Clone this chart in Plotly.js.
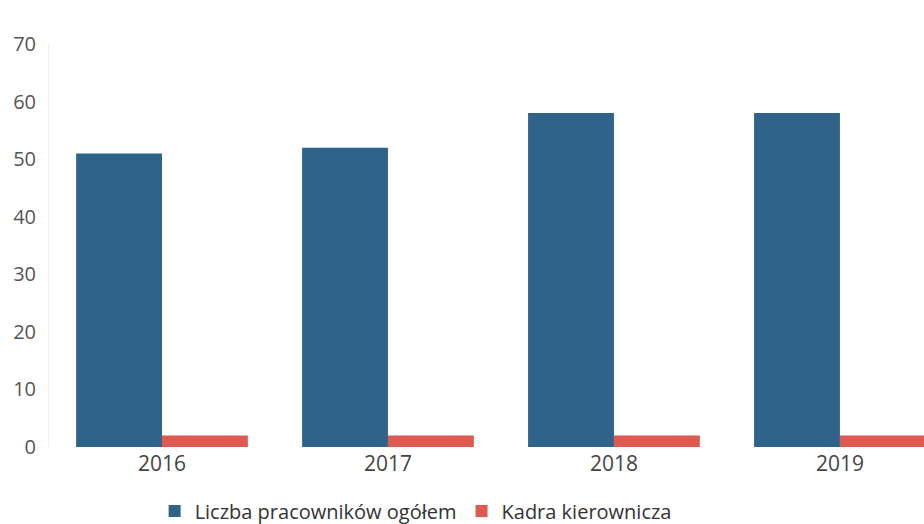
<!DOCTYPE html>
<html>
<head>
<meta charset="utf-8">
<script src="https://cdn.plot.ly/plotly-3.0.1.min.js"></script>
<style>html,body{margin:0;padding:0;background:#fff;}#chart{width:924px;height:524px;}</style>
</head>
<body>
<div id="chart"></div>
<script>
const years = ["2016", "2017", "2018", "2019"];
const seriesNames = ["Liczba pracowników ogółem", "Kadra kierownicza"];
const totalEmployees = [51, 52, 58, 58];
const managers = [2, 2, 2, 2];
const yTicks = [0, 10, 20, 30, 40, 50, 60, 70];

const traces = [
  {type: "bar", name: seriesNames[0], x: years, y: totalEmployees,
   marker: {color: "#2f6389"}, hoverinfo: "x+y"},
  {type: "bar", name: seriesNames[1], x: years, y: managers,
   marker: {color: "#dc5a50"}, hoverinfo: "x+y"}
];

const layout = {
  width: 924, height: 524,
  margin: {l: 49, r: 0, t: 44, b: 77, autoexpand: false},
  paper_bgcolor: "#fff", plot_bgcolor: "#fff",
  barmode: "group", bargap: 0.24, bargroupgap: 0,
  font: {family: "Open Sans, Noto Sans, sans-serif", color: "#555"},
  xaxis: {type: "category", range: [-0.5, 3.372], showgrid: false, zeroline: false,
          showline: false, ticks: "", tickfont: {size: 21, color: "#444"}, ticklen: 0,
          ticklabelstandoff: 2},
  yaxis: {range: [0, 70], tickvals: yTicks, showgrid: false, zeroline: false,
          showline: true, linecolor: "#f0f0f0", linewidth: 1,
          ticks: "", tickfont: {size: 20, color: "#555"}, ticklabelstandoff: 8},
  showlegend: true,
  legend: {orientation: "h", x: 0.419, xanchor: "center", y: -0.159, yanchor: "middle",
           font: {size: 20, color: "#333"}, itemwidth: 30, traceorder: "normal"}
};

Plotly.newPlot("chart", traces, layout, {displayModeBar: false, staticPlot: true});
</script>
</body>
</html>
